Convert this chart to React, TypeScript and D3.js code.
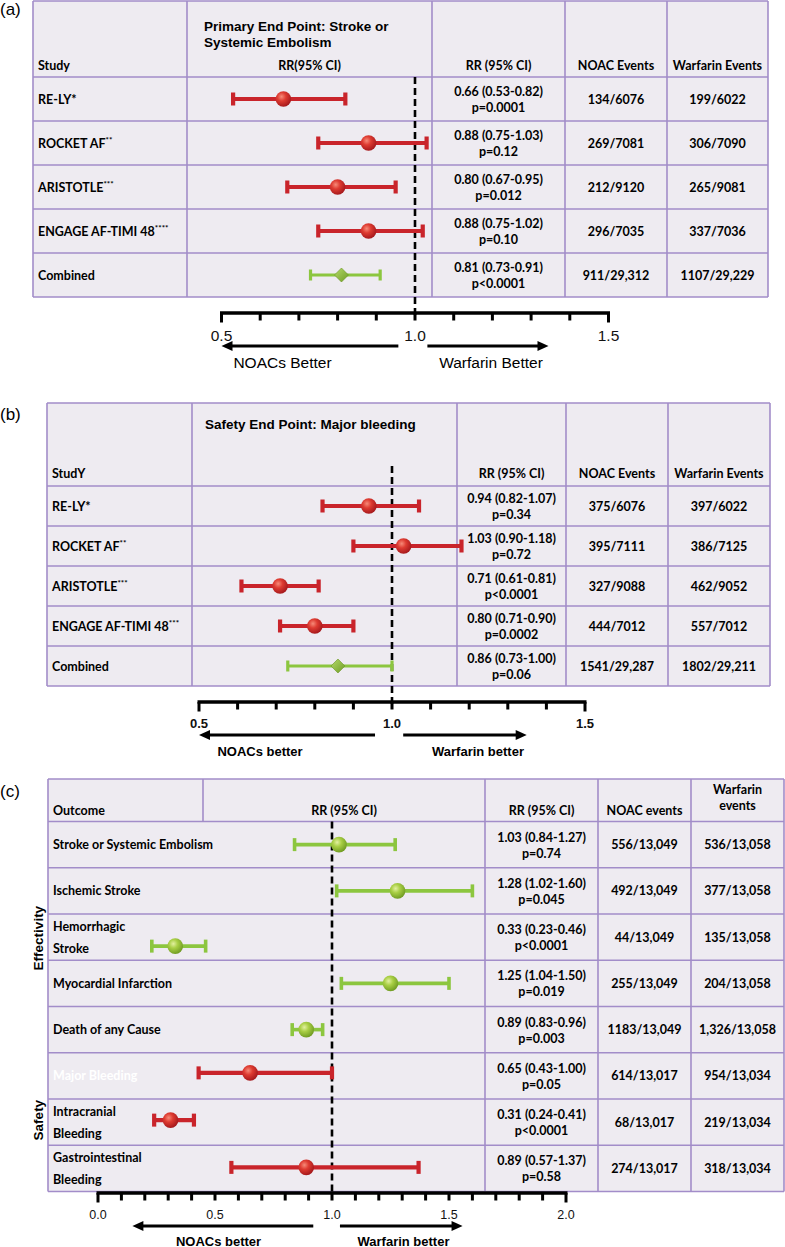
import React from "react";
import * as d3 from "d3";

// ---------------- Panel (a): Primary end point ----------------
const studiesA = ["RE-LY", "ROCKET AF", "ARISTOTLE", "ENGAGE AF-TIMI 48", "Combined"];
const starsA = ["*", "**", "***", "****", ""];
const rrA = [0.66, 0.88, 0.8, 0.88, 0.81];
const loA = [0.53, 0.75, 0.67, 0.75, 0.73];
const hiA = [0.82, 1.03, 0.95, 1.02, 0.91];
const pA = ["p=0.0001", "p=0.12", "p=0.012", "p=0.10", "p<0.0001"];
const noacA = ["134/6076", "269/7081", "212/9120", "296/7035", "911/29,312"];
const warfA = ["199/6022", "306/7090", "265/9081", "337/7036", "1107/29,229"];
const tickValsA = [0.5, 1.0, 1.5];
const tickLabelsA = ["0.5", "1.0", "1.5"];

// ---------------- Panel (b): Safety end point ----------------
const studiesB = ["RE-LY", "ROCKET AF", "ARISTOTLE", "ENGAGE AF-TIMI 48", "Combined"];
const starsB = ["*", "**", "***", "***", ""];
const rrB = [0.94, 1.03, 0.71, 0.8, 0.86];
const loB = [0.82, 0.9, 0.61, 0.71, 0.73];
const hiB = [1.07, 1.18, 0.81, 0.9, 1.0];
const pB = ["p=0.34", "p=0.72", "p<0.0001", "p=0.0002", "p=0.06"];
const noacB = ["375/6076", "395/7111", "327/9088", "444/7012", "1541/29,287"];
const warfB = ["397/6022", "386/7125", "462/9052", "557/7012", "1802/29,211"];
const tickValsB = [0.5, 1.0, 1.5];
const tickLabelsB = ["0.5", "1.0", "1.5"];

// ---------------- Panel (c): Outcomes ----------------
const outcomesC = [
  "Stroke or Systemic Embolism",
  "Ischemic Stroke",
  "Hemorrhagic\nStroke",
  "Myocardial Infarction",
  "Death of any Cause",
  "Major Bleeding",
  "Intracranial\nBleeding",
  "Gastrointestinal\nBleeding",
];
const groupsC = ["Effectivity", "Effectivity", "Effectivity", "Effectivity", "Effectivity", "Safety", "Safety", "Safety"];
const rrC = [1.03, 1.28, 0.33, 1.25, 0.89, 0.65, 0.31, 0.89];
const loC = [0.84, 1.02, 0.23, 1.04, 0.83, 0.43, 0.24, 0.57];
const hiC = [1.27, 1.6, 0.46, 1.5, 0.96, 1.0, 0.41, 1.37];
const pC = ["p=0.74", "p=0.045", "p<0.0001", "p=0.019", "p=0.003", "p=0.05", "p<0.0001", "p=0.58"];
const noacC = ["556/13,049", "492/13,049", "44/13,049", "255/13,049", "1183/13,049", "614/13,017", "68/13,017", "274/13,017"];
const warfC = ["536/13,058", "377/13,058", "135/13,058", "204/13,058", "1,326/13,058", "954/13,034", "219/13,034", "318/13,034"];
const tickValsC = [0, 0.5, 1.0, 1.5, 2.0];
const tickLabelsC = ["0.0", "0.5", "1.0", "1.5", "2.0"];

// ---------------- styles / layout ----------------
const BODY = "Lato, 'Open Sans', sans-serif";
const HEAD = "'Liberation Sans', Arial, sans-serif";
const BORDER = "#A28DC9";
const FILL = "#EEEBF1";
const RED = "#C9242B";
const GREEN = "#8CC63F";

const fmt = (r: number, l: number, h: number) => `${r.toFixed(2)} (${l.toFixed(2)}-${h.toFixed(2)})`;

const geomA = {
  cols: [33, 187, 432, 565, 667, 768], top: 1, head: 77, rowH: 44,
  domain: [0.5, 1.5], range: [221.5, 608.5], axisY: 313, dashTop: 77, dashBot: 318,
  headBase: 70, tickLabelY: 341, arrowY: 346, left: [0.957, 0.5], right: [1.032, 1.345],
  noacX: 282.5, warfX: 491, arrowTextY: 368, bold: false, axisFont: 15.5,
  step: 0.1,
};
const geomB = {
  cols: [47, 192, 457, 566, 668, 770], top: 403, head: 486, rowH: 40,
  domain: [0.5, 1.5], range: [199, 585], axisY: 702, dashTop: 466, dashBot: 707,
  headBase: 478, tickLabelY: 728, arrowY: 735, left: [0.956, 0.5], right: [1.029, 1.349],
  noacX: 260, warfX: 478, arrowTextY: 756, bold: true, axisFont: 13,
  step: 0.1,
};
const geomC = {
  cols: [48, 485, 598, 691, 784], split: 203, top: 779, head: 821.5, rowH: 46.25,
  domain: [0, 2], range: [98, 566], axisY: 1193, dashTop: 821.5, dashBot: 1193,
  tickLabelY: 1219, arrowY: 1226, left: [0.92, 0.147], right: [1.034, 1.558],
  noacX: 218.5, warfX: 403.5, arrowTextY: 1245.5, axisFont: 12.5,
  step: 0.1,
};
const markerShiftC = [0, 0, 9, 0, 0, -3, -2, -1];

function Defs() {
  return (
    <defs>
      <radialGradient id="redBall" cx="38%" cy="35%" r="70%">
        <stop offset="0%" stopColor="#F68A78" />
        <stop offset="40%" stopColor="#DE3B31" />
        <stop offset="100%" stopColor="#A0151A" />
      </radialGradient>
      <radialGradient id="greenBall" cx="38%" cy="35%" r="70%">
        <stop offset="0%" stopColor="#E2F0A0" />
        <stop offset="40%" stopColor="#A9CF45" />
        <stop offset="100%" stopColor="#6C9820" />
      </radialGradient>
      <linearGradient id="diamondG" x1="0" y1="0" x2="1" y2="1">
        <stop offset="0%" stopColor="#B5DA6A" />
        <stop offset="100%" stopColor="#6F9C25" />
      </linearGradient>
    </defs>
  );
}

function ErrorBar({ x, y, lo, hi, rr, color, ball, diamond, lw, capH }: any) {
  const x0 = x(lo), x1 = x(hi), xm = x(rr);
  return (
    <g>
      <line x1={x0} x2={x1} y1={y} y2={y} stroke={color} strokeWidth={lw} />
      <line x1={x0} x2={x0} y1={y - capH / 2} y2={y + capH / 2} stroke={color} strokeWidth={lw} />
      <line x1={x1} x2={x1} y1={y - capH / 2} y2={y + capH / 2} stroke={color} strokeWidth={lw} />
      {diamond ? (
        <polygon
          points={`${xm},${y - 7} ${xm + 7},${y} ${xm},${y + 7} ${xm - 7},${y}`}
          fill="url(#diamondG)"
          stroke="#6A9623"
          strokeWidth={0.6}
        />
      ) : (
        <circle cx={xm} cy={y} r={7.8} fill={`url(#${ball})`} />
      )}
    </g>
  );
}

function Axis({ g, x, vals, labels }: any) {
  const [d0, d1] = g.domain;
  const n = Math.round((d1 - d0) / g.step);
  const minor = d3.range(n + 1).map((i) => d0 + i * g.step);
  const weight = g.bold ? "bold" : "normal";
  const la0 = x(g.left[0]), la1 = x(g.left[1]);
  const ra0 = x(g.right[0]), ra1 = x(g.right[1]);
  return (
    <g>
      <line x1={x(d0) - 1.5} x2={x(d1) + 1.5} y1={g.axisY} y2={g.axisY} stroke="#000" strokeWidth={3.5} />
      {minor.map((v: number, i: number) => (
        <line
          key={i}
          x1={x(v)}
          x2={x(v)}
          y1={g.axisY}
          y2={g.axisY + (i === 0 || i === n ? 9.5 : 7.5)}
          stroke="#000"
          strokeWidth={3}
        />
      ))}
      {vals.map((v: number, i: number) => (
        <text
          key={i}
          x={x(v)}
          y={g.tickLabelY}
          textAnchor="middle"
          fontFamily={HEAD}
          fontSize={g.axisFont}
          fontWeight={weight}
          fill="#111"
        >
          {labels[i]}
        </text>
      ))}
      <line x1={la0} x2={la1 + 9} y1={g.arrowY} y2={g.arrowY} stroke="#000" strokeWidth={3} />
      <polygon points={`${la1},${g.arrowY} ${la1 + 11},${g.arrowY - 5} ${la1 + 11},${g.arrowY + 5}`} fill="#000" />
      <line x1={ra0} x2={ra1 - 9} y1={g.arrowY} y2={g.arrowY} stroke="#000" strokeWidth={3} />
      <polygon points={`${ra1},${g.arrowY} ${ra1 - 11},${g.arrowY - 5} ${ra1 - 11},${g.arrowY + 5}`} fill="#000" />
      <text x={g.noacX} y={g.arrowTextY} textAnchor="middle" fontFamily={HEAD} fontSize={g.bold === false ? 15.5 : 13} fontWeight={g.bold === false ? "normal" : "bold"}>
        {g.bold === false ? "NOACs Better" : "NOACs better"}
      </text>
      <text x={g.warfX} y={g.arrowTextY} textAnchor="middle" fontFamily={HEAD} fontSize={g.bold === false ? 15.5 : 13} fontWeight={g.bold === false ? "normal" : "bold"}>
        {g.bold === false ? "Warfarin Better" : "Warfarin better"}
      </text>
    </g>
  );
}

function StudyLabel({ x, y, name, stars }: any) {
  return (
    <text x={x} y={y} fontFamily={BODY} fontSize={12.5} fontWeight="bold">
      <tspan>{name}</tspan>
      {stars.length === 1 ? (
        <tspan>{stars}</tspan>
      ) : stars.length > 1 ? (
        <tspan fontSize={8} dy={-5}>{stars}</tspan>
      ) : null}
    </text>
  );
}

function StudyPanel({ g, studies, stars, rr, lo, hi, p, noac, warf, tickVals, tickLabels, headerStudy, plotHeader }: any) {
  const x = d3.scaleLinear().domain(g.domain).range(g.range);
  const n = studies.length;
  const rows = d3.range(n).map((i) => g.head + i * g.rowH);
  const bottom = g.head + n * g.rowH;
  const c = g.cols;
  const mid = (a: number, b: number) => (a + b) / 2;
  return (
    <g>
      <rect x={c[0]} y={g.top} width={c[5] - c[0]} height={bottom - g.top} fill={FILL} />
      {[g.top, ...rows, bottom].map((yy: number, i: number) => (
        <line key={"h" + i} x1={c[0]} x2={c[5]} y1={yy} y2={yy} stroke={BORDER} strokeWidth={1.6} />
      ))}
      {c.map((xx: number, i: number) => (
        <line key={"v" + i} x1={xx} x2={xx} y1={g.top} y2={bottom} stroke={BORDER} strokeWidth={1.6} />
      ))}
      {/* header */}
      <text x={c[0] + 5} y={g.headBase} fontFamily={BODY} fontSize={12.5} fontWeight="bold">{headerStudy}</text>
      {plotHeader ? (
        <text x={mid(c[1], c[2])} y={g.headBase} textAnchor="middle" fontFamily={BODY} fontSize={12.5} fontWeight="bold">{plotHeader}</text>
      ) : null}
      <text x={mid(c[2], c[3])} y={g.headBase} textAnchor="middle" fontFamily={BODY} fontSize={12.5} fontWeight="bold">RR (95% CI)</text>
      <text x={mid(c[3], c[4])} y={g.headBase} textAnchor="middle" fontFamily={BODY} fontSize={12.5} fontWeight="bold">NOAC Events</text>
      <text x={mid(c[4], c[5])} y={g.headBase} textAnchor="middle" fontFamily={BODY} fontSize={12.5} fontWeight="bold">Warfarin Events</text>
      {/* dashed reference */}
      <line x1={x(1)} x2={x(1)} y1={g.dashTop} y2={g.dashBot} stroke="#000" strokeWidth={2.6} strokeDasharray="7,4" />
      {rows.map((ry: number, i: number) => {
        const cy = ry + g.rowH / 2;
        const comb = i === n - 1;
        return (
          <g key={i}>
            <StudyLabel x={c[0] + 5} y={cy + 4.5} name={studies[i]} stars={stars[i]} />
            <ErrorBar
              x={x}
              y={cy}
              lo={lo[i]}
              hi={hi[i]}
              rr={rr[i]}
              color={comb ? GREEN : RED}
              ball="redBall"
              diamond={comb}
              lw={comb ? 3.2 : 4.2}
              capH={comb ? 11 : 13}
            />
            <text x={mid(c[2], c[3])} y={cy - 3} textAnchor="middle" fontFamily={BODY} fontSize={12.5} fontWeight="bold">{fmt(rr[i], lo[i], hi[i])}</text>
            <text x={mid(c[2], c[3])} y={cy + 13} textAnchor="middle" fontFamily={BODY} fontSize={12.5} fontWeight="bold">{p[i]}</text>
            <text x={mid(c[3], c[4])} y={cy + 4.5} textAnchor="middle" fontFamily={BODY} fontSize={12.5} fontWeight="bold">{noac[i]}</text>
            <text x={mid(c[4], c[5])} y={cy + 4.5} textAnchor="middle" fontFamily={BODY} fontSize={12.5} fontWeight="bold">{warf[i]}</text>
          </g>
        );
      })}
      <Axis g={g} x={x} vals={tickVals} labels={tickLabels} />
    </g>
  );
}

function OutcomePanel() {
  const g = geomC;
  const x = d3.scaleLinear().domain(g.domain).range(g.range);
  const n = outcomesC.length;
  const rows = d3.range(n).map((i) => g.head + i * g.rowH);
  const bottom = g.head + n * g.rowH;
  const c = g.cols;
  const mid = (a: number, b: number) => (a + b) / 2;
  const groups = Array.from(new Set(groupsC));
  return (
    <g>
      <rect x={c[0]} y={g.top} width={c[4] - c[0]} height={bottom - g.top} fill={FILL} />
      {[g.top, ...rows, bottom].map((yy: number, i: number) => (
        <line key={"h" + i} x1={c[0]} x2={c[4]} y1={yy} y2={yy} stroke={BORDER} strokeWidth={1.6} />
      ))}
      {c.map((xx: number, i: number) => (
        <line key={"v" + i} x1={xx} x2={xx} y1={g.top} y2={bottom} stroke={BORDER} strokeWidth={1.6} />
      ))}
      <line x1={g.split} x2={g.split} y1={g.top} y2={g.head} stroke={BORDER} strokeWidth={1.6} />
      <text x={c[0] + 5} y={815} fontFamily={BODY} fontSize={12.5} fontWeight="bold">Outcome</text>
      <text x={mid(g.split, c[1])} y={815} textAnchor="middle" fontFamily={BODY} fontSize={12.5} fontWeight="bold">RR (95% CI)</text>
      <text x={mid(c[1], c[2])} y={815} textAnchor="middle" fontFamily={BODY} fontSize={12.5} fontWeight="bold">RR (95% CI)</text>
      <text x={mid(c[2], c[3])} y={815} textAnchor="middle" fontFamily={BODY} fontSize={12.5} fontWeight="bold">NOAC events</text>
      <text x={mid(c[3], c[4])} y={793.5} textAnchor="middle" fontFamily={BODY} fontSize={12.5} fontWeight="bold">Warfarin</text>
      <text x={mid(c[3], c[4])} y={809.5} textAnchor="middle" fontFamily={BODY} fontSize={12.5} fontWeight="bold">events</text>
      <line x1={x(1)} x2={x(1)} y1={g.dashTop} y2={g.dashBot} stroke="#000" strokeWidth={2.6} strokeDasharray="7,4" />
      {groups.map((grp) => {
        const idx = groupsC.map((v, i) => (v === grp ? i : -1)).filter((i) => i >= 0);
        const y0 = rows[idx[0]];
        const y1 = rows[idx[idx.length - 1]] + g.rowH;
        const cy = (y0 + y1) / 2 + (grp === "Safety" ? -2 : 1);
        return (
          <text
            key={grp}
            transform={`translate(43,${cy}) rotate(-90)`}
            textAnchor="middle"
            fontFamily={HEAD}
            fontSize={13.5}
            fontWeight="bold"
          >
            {grp}
          </text>
        );
      })}
      {rows.map((ry: number, i: number) => {
        const cy = ry + g.rowH / 2;
        const lines = outcomesC[i].split("\n");
        const eff = groupsC[i] === "Effectivity";
        const labelColor = outcomesC[i] === "Major Bleeding" ? "#FFFFFF" : "#000";
        return (
          <g key={i}>
            {lines.length === 1 ? (
              <text x={c[0] + 5} y={cy + 4.5} fontFamily={BODY} fontSize={12.5} fontWeight="bold" fill={labelColor}>{lines[0]}</text>
            ) : (
              <g>
                <text x={c[0] + 5} y={cy - 6} fontFamily={BODY} fontSize={12.5} fontWeight="bold" fill={labelColor}>{lines[0]}</text>
                <text x={c[0] + 5} y={cy + 15.5} fontFamily={BODY} fontSize={12.5} fontWeight="bold" fill={labelColor}>{lines[1]}</text>
              </g>
            )}
            <ErrorBar
              x={x}
              y={cy + markerShiftC[i]}
              lo={loC[i]}
              hi={hiC[i]}
              rr={rrC[i]}
              color={eff ? GREEN : RED}
              ball={eff ? "greenBall" : "redBall"}
              diamond={false}
              lw={eff ? 3.6 : 4.2}
              capH={13}
            />
            <text x={mid(c[1], c[2])} y={cy - 3} textAnchor="middle" fontFamily={BODY} fontSize={12.5} fontWeight="bold">{fmt(rrC[i], loC[i], hiC[i])}</text>
            <text x={mid(c[1], c[2])} y={cy + 13} textAnchor="middle" fontFamily={BODY} fontSize={12.5} fontWeight="bold">{pC[i]}</text>
            <text x={mid(c[2], c[3])} y={cy + 4.5} textAnchor="middle" fontFamily={BODY} fontSize={12.5} fontWeight="bold">{noacC[i]}</text>
            <text x={mid(c[3], c[4])} y={cy + 4.5} textAnchor="middle" fontFamily={BODY} fontSize={12.5} fontWeight="bold">{warfC[i]}</text>
          </g>
        );
      })}
      <Axis g={g} x={x} vals={tickValsC} labels={tickLabelsC} />
    </g>
  );
}

export default function App() {
  return (
    <svg
      width={785}
      height={1247}
      viewBox="0 0 785 1247"
      style={{ position: "absolute", left: 0, top: 0, background: "#fff" }}
    >
      <Defs />
      <rect x={0} y={0} width={785} height={1247} fill="#fff" />
      {/* panel labels */}
      <text x={0} y={15} fontFamily={HEAD} fontSize={17}>(a)</text>
      <text x={0} y={420} fontFamily={HEAD} fontSize={17}>(b)</text>
      <text x={0} y={796.5} fontFamily={HEAD} fontSize={17}>(c)</text>

      <StudyPanel
        g={geomA}
        studies={studiesA}
        stars={starsA}
        rr={rrA}
        lo={loA}
        hi={hiA}
        p={pA}
        noac={noacA}
        warf={warfA}
        tickVals={tickValsA}
        tickLabels={tickLabelsA}
        headerStudy="Study"
        plotHeader="RR(95% CI)"
      />
      <text x={204} y={30.5} fontFamily={HEAD} fontSize={13.5} fontWeight="bold">Primary End Point: Stroke or</text>
      <text x={204} y={46.5} fontFamily={HEAD} fontSize={13.5} fontWeight="bold">Systemic Embolism</text>

      <StudyPanel
        g={geomB}
        studies={studiesB}
        stars={starsB}
        rr={rrB}
        lo={loB}
        hi={hiB}
        p={pB}
        noac={noacB}
        warf={warfB}
        tickVals={tickValsB}
        tickLabels={tickLabelsB}
        headerStudy="StudY"
        plotHeader={null}
      />
      <text x={205} y={428.5} fontFamily={HEAD} fontSize={13.5} fontWeight="bold">Safety End Point: Major bleeding</text>

      <OutcomePanel />
    </svg>
  );
}
